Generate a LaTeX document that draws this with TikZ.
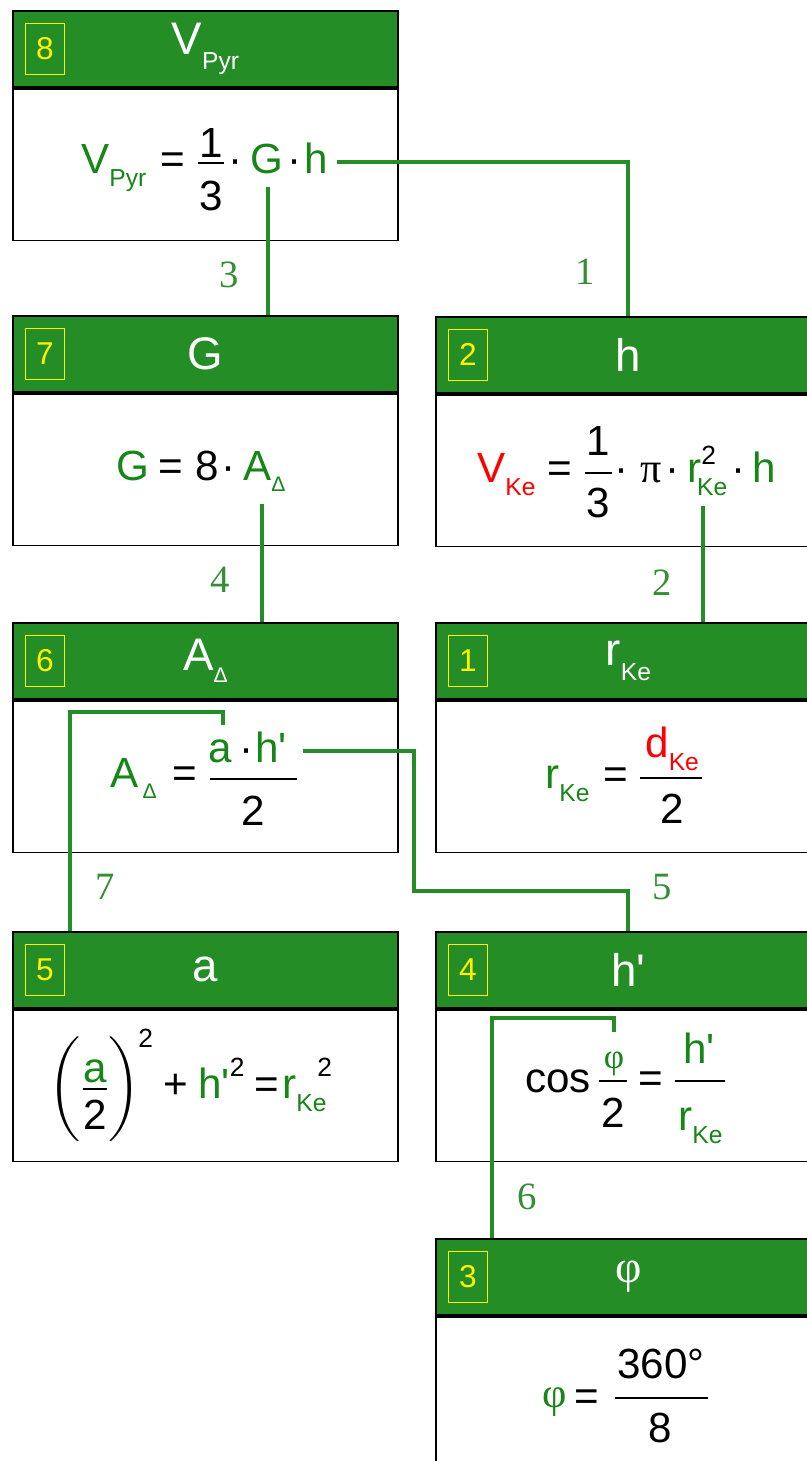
\documentclass[tikz,border=0pt]{standalone}
\usepackage{fontspec}
\setmainfont{Liberation Sans}
\newfontfamily\serifsym{Liberation Serif}
\usepackage{amsmath}
\usepackage{tikz}
\usetikzlibrary{positioning}

\definecolor{hdrgreen}{RGB}{36,141,38}
\definecolor{eqgreen}{RGB}{22,134,22}
\definecolor{eqred}{RGB}{255,0,0}
\definecolor{lblgreen}{RGB}{52,142,52}

\newcommand{\subtx}[1]{\raisebox{-0.32em}{\fontsize{14}{14}\selectfont #1}}
\newcommand{\suptx}[1]{\raisebox{0.5em}{\fontsize{15}{15}\selectfont\color{black}#1}}
\newcommand{\tri}{\raisebox{-0.28em}{\fontsize{12}{12}\selectfont Δ}}

\begin{document}
\begin{tikzpicture}[
        x=0.02cm, y=-0.02cm,
        hdr/.style={rectangle, draw=black, line width=1pt, fill=hdrgreen, text=white, minimum width=7.7cm, minimum height=1.52cm, inner sep=0pt, font=\fontsize{26}{30}\selectfont},
        bodybox/.style={rectangle, draw=black, line width=1pt, fill=white, minimum width=7.7cm, minimum height=3.04cm, inner sep=0pt},
        numbox/.style={rectangle, draw=yellow, line width=0.6pt, text=yellow, minimum width=0.78cm, minimum height=1.02cm, inner sep=0pt, font=\fontsize{18}{20}\selectfont},
        eq/.style={inner sep=0pt, font=\fontsize{24}{28}\selectfont},
        geq/.style={eq, text=eqgreen},
        req/.style={eq, text=eqred},
        fbar/.style={line width=1pt},
        link/.style={draw=hdrgreen, line width=2.2pt},
        lbl/.style={text=lblgreen, font=\fontsize{22}{24}\serifsym}
    ]
        \useasboundingbox (0,0) rectangle (807,1461);

        % Boxes
        \node[hdr, anchor=north west] (h8) at (12,10) {V\subtx{Pyr}};
        \node[bodybox, below=0pt of h8] (b8) {};
        \node[numbox, right=0.26cm of h8.west] (n8) {8};

        \node[hdr, anchor=north west] (h7) at (12,315) {G};
        \node[bodybox, below=0pt of h7] (b7) {};
        \node[numbox, right=0.26cm of h7.west] (n7) {7};

        \node[hdr, anchor=north west] (h2) at (435,316) {h};
        \node[bodybox, below=0pt of h2] (b2) {};
        \node[numbox, right=0.26cm of h2.west] (n2) {2};

        \node[hdr, anchor=north west] (h6) at (12,622) {A\tri};
        \node[bodybox, below=0pt of h6] (b6) {};
        \node[numbox, right=0.26cm of h6.west] (n6) {6};

        \node[hdr, anchor=north west] (h1) at (435,622) {r\subtx{Ke}};
        \node[bodybox, below=0pt of h1] (b1) {};
        \node[numbox, right=0.26cm of h1.west] (n1) {1};

        \node[hdr, anchor=north west] (h5) at (12,931) {a};
        \node[bodybox, below=0pt of h5] (b5) {};
        \node[numbox, right=0.26cm of h5.west] (n5) {5};

        \node[hdr, anchor=north west] (h4) at (435,931) {h\textquotesingle};
        \node[bodybox, below=0pt of h4] (b4) {};
        \node[numbox, right=0.26cm of h4.west] (n4) {4};

        \node[hdr, anchor=north west] (h3) at (435,1238) {\serifsym φ};
        \node[bodybox, below=0pt of h3] (b3) {};
        \node[numbox, right=0.26cm of h3.west] (n3) {3};

        % Formulas
        \node[geq, anchor=base west] (vpyr) at (81,173) {V\subtx{Pyr}};
        \node[eq, anchor=base] (eq8) at (173,173) {=};
        \node[eq, anchor=base] (one8) at (211,157) {1};
        \node[eq, anchor=base] (three8) at (211,210) {3};
        \draw[fbar] (198,163) -- (224,163);
        \node[eq, anchor=base] (dot8a) at (236,173) {·};
        \node[geq, anchor=base] (gsym) at (267,173) {G};
        \node[eq, anchor=base] (dot8b) at (295,173) {·};
        \node[geq, anchor=base] (hsym) at (316,173) {h};

        \node[geq, anchor=base] (g7) at (133,480) {G};
        \node[eq, anchor=base] (eq7) at (171,480) {=};
        \node[eq, anchor=base] (eight7) at (207,480) {8};
        \node[eq, anchor=base] (dot7) at (229,480) {·};
        \node[geq, anchor=base west] (atri7) at (243,480) {A\tri};

        \node[req, anchor=base west] (vke) at (477,482) {V\subtx{Ke}};
        \node[eq, anchor=base] (eq2) at (560,482) {=};
        \node[eq, anchor=base] (one2) at (598,455) {1};
        \node[eq, anchor=base] (three2) at (598,517) {3};
        \draw[fbar] (585,473) -- (612,473);
        \node[eq, anchor=base] (dot2a) at (622,482) {·};
        \node[eq, anchor=base] (pi2) at (651,482) {\serifsym π};
        \node[eq, anchor=base] (dot2b) at (673,482) {·};
        \node[geq, anchor=base west] (rke2) at (687,482) {r\rlap{\raisebox{0.42em}{\fontsize{15}{15}\selectfont\color{black}2}}\kern-0.1em\subtx{Ke}};
        \node[eq, anchor=base] (dot2c) at (739,482) {·};
        \node[geq, anchor=base] (h2eq) at (764,482) {h};

        \node[geq, anchor=base west] (atri6) at (110,787) {A\hspace{0.1em}\tri};
        \node[eq, anchor=base] (eq6) at (185,787) {=};
        \node[geq, anchor=base] (anum) at (220,762) {a};
        \node[eq, anchor=base] (dot6) at (247,762) {·};
        \node[geq, anchor=base west] (hpnum) at (255,762) {h\textquotesingle};
        \draw[fbar] (210,779) -- (297,779);
        \node[eq, anchor=base] (two6) at (253,825) {2};

        \node[geq, anchor=base west] (rke1) at (545,788) {r\subtx{Ke}};
        \node[eq, anchor=base] (eq1) at (616,788) {=};
        \node[req, anchor=base west] (dke) at (645,757) {d\subtx{Ke}};
        \draw[fbar] (640,778) -- (702,778);
        \node[eq, anchor=base] (two1) at (672,823) {2};

        \node[eq] (afrac5) at (95,1089) {$\left(\vcenter{\hbox{\rule{0pt}{2cm}}}\genfrac{}{}{1pt}{0}{\text{\raisebox{-0.28em}{\color{eqgreen}a}}}{\text{2}}\right)$};
        \node[eq, anchor=base west] (sq5) at (138,1047) {\fontsize{15}{15}\selectfont 2};
        \node[eq, anchor=base] (plus5) at (176,1098) {+};
        \node[geq, anchor=base west] (hp5) at (198,1098) {h\textquotesingle\suptx{2}};
        \node[eq, anchor=base] (eq5) at (267,1098) {=};
        \node[geq, anchor=base west] (rke5) at (282,1098) {r\rlap{\hspace{0.5em}\suptx{2}}\subtx{Ke}};

        \node[eq, anchor=base west] (cos4) at (525,1092) {cos};
        \node[geq, anchor=south] (phinum) at (614,1076) {\fontsize{20}{20}\serifsym φ};
        \draw[fbar] (599,1081) -- (627,1081);
        \node[eq, anchor=base] (two4) at (613,1127) {2};
        \node[eq, anchor=base] (eq4) at (651,1092) {=};
        \node[geq, anchor=base] (hp4) at (699,1063) {h\textquotesingle};
        \draw[fbar] (675,1081) -- (725,1081);
        \node[geq, anchor=base west] (rke4) at (678,1130) {r\subtx{Ke}};

        \node[geq] (phi3) at (555,1402) {\serifsym φ};
        \node[eq, anchor=base] (eq3) at (587,1410) {=};
        \node[eq, anchor=base] (num3) at (661,1378) {360°};
        \draw[fbar] (615,1398) -- (708,1398);
        \node[eq, anchor=base] (eight3) at (660,1442) {8};

        % Connectors
        \coordinate (p1) at (337,162);
        \draw[link] (p1) -| (h2.north);
        \coordinate (p3) at (268,187);
        \draw[link] (p3) -- (p3 |- h7.north);
        \coordinate (p4) at (262,504);
        \draw[link] (p4) -- (p4 |- h6.north);
        \coordinate (p2) at (703,506);
        \draw[link] (p2) -- (p2 |- h1.north);
        \coordinate (p7) at (223,725);
        \coordinate (k7) at (70,712);
        \draw[link] (p7) |- (k7) -- (k7 |- h5.north);
        \coordinate (p5) at (303,751);
        \coordinate (k5) at (414,891);
        \draw[link] (p5) -| (k5) -| (h4.north);
        \coordinate (p6) at (614,1032);
        \coordinate (k6) at (492,1018);
        \draw[link] (p6) |- (k6) -- (k6 |- h3.north);

        % Step labels
        \node[lbl] (l1) at (585,272) {1};
        \node[lbl] (l2) at (662,583) {2};
        \node[lbl] (l3) at (229,275) {3};
        \node[lbl] (l4) at (220,580) {4};
        \node[lbl] (l5) at (662,887) {5};
        \node[lbl] (l6) at (527,1197) {6};
        \node[lbl] (l7) at (105,887) {7};
    \end{tikzpicture}
\end{document}
